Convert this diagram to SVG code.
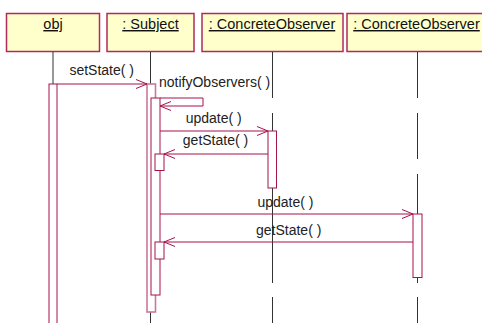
<svg xmlns="http://www.w3.org/2000/svg" width="482" height="323" viewBox="0 0 482 323">
<style>
.hdr{fill:#FFFFCC;stroke:#B02A5C;stroke-width:1.5}
.ht{font-family:"Liberation Sans",Arial,sans-serif;font-size:14.5px;fill:#111;text-anchor:middle;text-decoration:underline}
.life{stroke:#333;stroke-width:1;fill:none}
.act{fill:#fff;stroke:#A6124A;stroke-width:1}
.actl{fill:#fff;stroke:#C9789A;stroke-width:1.6}
.msg{stroke:#A6124A;stroke-width:1;fill:none;marker-end:url(#open)}
.mt{font-family:"Liberation Sans",Arial,sans-serif;font-size:14px;fill:#222;text-anchor:middle}
</style>
<defs>
<marker id="open" viewBox="0 0 12 10" refX="11" refY="5" markerWidth="12" markerHeight="10" markerUnits="userSpaceOnUse" orient="auto">
<path d="M0,0.5 L11,5 L0,9.5" fill="none" stroke="#A6124A" stroke-width="1"/>
</marker>
</defs>
<g id="obj">
<rect class="hdr" x="6.5" y="13.5" width="93" height="38"/>
<text class="ht" x="53" y="29">obj</text>
<line class="life" x1="53" y1="52" x2="53" y2="84"/>
<rect class="act" x="49" y="84" width="8" height="245"/>
</g>
<g id="subject">
<rect class="hdr" x="107" y="13.5" width="87" height="38"/>
<text class="ht" x="150.5" y="29">: Subject</text>
<line class="life" x1="150.5" y1="52" x2="150.5" y2="84"/>
<line class="life" x1="150.5" y1="312" x2="150.5" y2="323"/>
<rect class="actl" x="147" y="84" width="8.5" height="228"/>
<rect class="act" x="151" y="98" width="9" height="197"/>
<rect class="act" x="155" y="154" width="9" height="16.5"/>
<rect class="act" x="155" y="242" width="9" height="17"/>
</g>
<g id="observer1">
<rect class="hdr" x="202" y="13.5" width="141" height="38"/>
<text class="ht" x="272" y="29">: ConcreteObserver</text>
<path class="life" d="M272.5,52 V98 M272.5,113 V131 M272.5,188 V283 M272.5,297 V323"/>
<rect class="act" x="268" y="131" width="8.5" height="57"/>
</g>
<g id="observer2">
<rect class="hdr" x="347" y="13.5" width="141" height="38"/>
<text class="ht" x="416.5" y="29">: ConcreteObserver</text>
<path class="life" d="M417.5,52 V98 M417.5,113 V159 M417.5,174 V214 M417.5,278 V283 M417.5,297 V323"/>
<rect class="act" x="413" y="214" width="9" height="63.5"/>
</g>
<g id="connectors">
<line class="msg" x1="57" y1="84" x2="147" y2="84"/>
<text class="mt" x="101.7" y="75">setState( )</text>
<path class="msg" d="M160,98 H203 V106 H160"/>
<text class="mt" x="159" y="87" style="text-anchor:start">notifyObservers( )</text>
<line class="msg" x1="160" y1="131" x2="268" y2="131"/>
<text class="mt" x="213.7" y="123">update( )</text>
<line class="msg" x1="268" y1="154" x2="164" y2="154"/>
<text class="mt" x="215.5" y="145">getState( )</text>
<line class="msg" x1="160" y1="214" x2="413" y2="214"/>
<text class="mt" x="285.5" y="206.5">update( )</text>
<line class="msg" x1="413" y1="242" x2="164" y2="242"/>
<text class="mt" x="288.7" y="235">getState( )</text>
</g>
</svg>
